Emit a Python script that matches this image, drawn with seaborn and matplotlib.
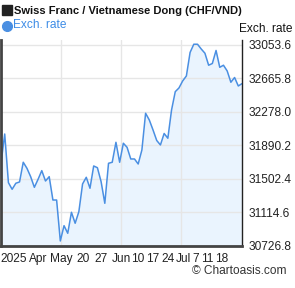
import matplotlib
matplotlib.use("Agg")
import matplotlib.pyplot as plt
from matplotlib.lines import Line2D
from matplotlib.patches import Rectangle
import numpy as np
import seaborn as sns

# ---- data ----
rates = [31684, 32023, 31460, 31383, 31453, 31468, 31696, 31626, 31529, 31406,
         31499, 31599, 31479, 31529, 31259, 31259, 30785, 30962, 30874, 31117,
         30990, 31124, 31445, 31522, 31395, 31653, 31633, 31471, 31221, 31684,
         31696, 31927, 31696, 31916, 31869, 31734, 31734, 31676, 31838, 32263,
         32185, 32070, 31948, 31896, 32029, 31974, 32301, 32513, 32556, 32637,
         32695, 32967, 33062, 33062, 33007, 32958, 32819, 32839, 32990, 32795,
         32819, 32753, 32622, 32677, 32579, 32606]
xtick_labels = ["2025", "Apr", "May", "20", "27", "Jun", "10", "17", "24",
                "Jul", "7", "11", "18"]
xtick_pos = [3.5, 10.0, 16.2, 22.1, 27.0, 32.4, 36.9, 41.0, 45.0, 49.3, 52.4, 55.6, 59.6]
month_pos = [16.18, 32.36, 48.54]
ytick_vals = [30726.8, 31114.6, 31502.4, 31890.2, 32278.0, 32665.8, 33053.6]

title = "Swiss Franc / Vietnamese Dong (CHF/VND)"
legend_label = "Exch. rate"

sns.set_style("white")
plt.rcParams["font.family"] = ["Liberation Sans", "DejaVu Sans"]

W, H = 295, 288
fig = plt.figure(figsize=(W / 100, H / 100), dpi=100)
ax = fig.add_axes([1 / W, 1 - 246 / H, 241 / W, 206 / H])

idx = np.arange(len(rates))
line_color = "#4a8fe2"
fill_color = "#eaf4fe"
sns.lineplot(x=idx, y=rates, ax=ax, color=line_color, linewidth=1.1)
ax.fill_between(idx, rates, 30000, color=fill_color, zorder=0.5, linewidth=0)

ax.set_xlim(0, len(rates) - 1)
ax.set_ylim(30726.8, 33111)

ax.yaxis.tick_right()
ax.set_yticks(ytick_vals)
ax.set_yticklabels([f"{v:.1f}" for v in ytick_vals])
ax.set_xticks(xtick_pos)
ax.set_xticklabels(xtick_labels)
ax.set_xticks(month_pos, minor=True)
ax.tick_params(axis="both", which="both", length=0, labelsize=8.6, colors="#222222")
ax.tick_params(axis="y", pad=5)
ax.tick_params(axis="x", pad=5)

ax.grid(False)
ax.yaxis.grid(True, which="major", color="#e6e6e6", linewidth=1, zorder=0)
ax.xaxis.grid(True, which="minor", color="#e6e6e6", linewidth=1, zorder=0)
ax.set_axisbelow(True)
ax.set_xlabel("")
ax.set_ylabel("")

for s in ["left", "bottom"]:
    ax.spines[s].set_visible(True)
    ax.spines[s].set_color("#444444")
    ax.spines[s].set_linewidth(2)
ax.spines["right"].set_visible(True)
ax.spines["right"].set_color("#222222")
ax.spines["right"].set_linewidth(1)
ax.spines["top"].set_visible(False)

# header
fig.add_artist(Rectangle((2 / W, 1 - 15 / H), 10 / W, 10 / H, transform=fig.transFigure,
                         color="#222222"))
fig.text(14 / W, 1 - 10.5 / H, title, fontsize=8.0, fontweight="bold", color="#111111",
         va="center", ha="left")
fig.add_artist(Line2D([6.5 / W], [1 - 25.5 / H], marker="o", markersize=7,
                      color=line_color, transform=fig.transFigure))
fig.text(13 / W, 1 - 25.5 / H, legend_label, fontsize=8.6, color="#3d8ce6",
         va="center", ha="left")
fig.text(239 / W, 1 - 29 / H, legend_label, fontsize=8.6, color="#111111",
         va="center", ha="left")
fig.text(287 / W, 1 - 271 / H, "\u00a9 Chartoasis.com", fontsize=8.6, color="#333333",
         va="center", ha="right")

fig.savefig("out.png", dpi=100)
